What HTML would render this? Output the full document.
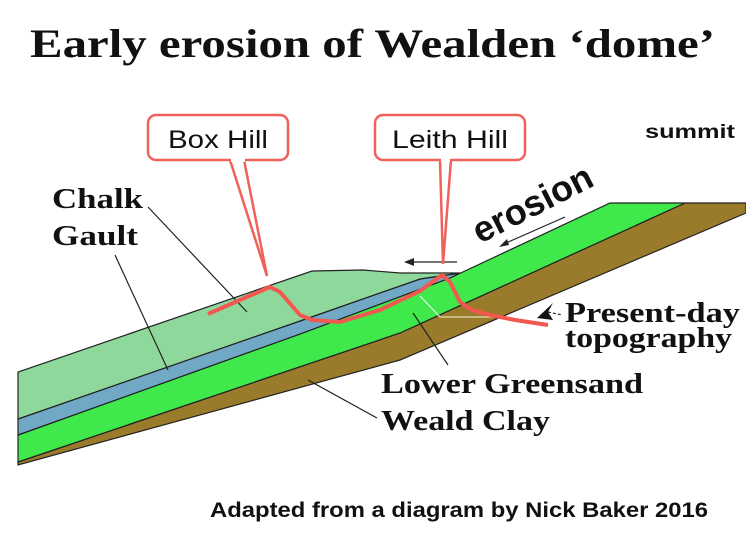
<!DOCTYPE html>
<html><head><style>
body{margin:0;width:746px;height:534px;background:#fff;overflow:hidden}
</style></head><body>
<svg width="746" height="534" xmlns="http://www.w3.org/2000/svg">
<rect width="746" height="534" fill="#fff"/>
<text x="30" y="57" textLength="685" lengthAdjust="spacingAndGlyphs" font-family="Liberation Serif, serif" font-weight="bold" font-size="40" fill="#111">Early erosion of Wealden ‘dome’</text>
<!-- weald clay -->
<polygon points="18,465 18,462 400,333 685,203 746,203 746,213 400,360" fill="#9a7b2c" stroke="#222" stroke-width="1.2"/>
<!-- greensand -->
<polygon points="18,462 18,435 300,334 450,278 610,203 685,203 400,333" fill="#3fe84b" stroke="#222" stroke-width="1.2"/>
<!-- gault -->
<polygon points="18,435 18,419 300,321 420,279 460,273 450,278 300,334" fill="#70a8c6" stroke="#222" stroke-width="1.2"/>
<!-- chalk -->
<polygon points="18,419 18,372 312,271 363,270 400,273 460,273 420,279 300,321" fill="#8fd89b" stroke="#222" stroke-width="1.2"/>
<!-- leader lines -->
<g stroke="#222" stroke-width="1.2">
<line x1="148" y1="207" x2="247" y2="312"/>
<line x1="115" y1="255" x2="168" y2="370"/>
<line x1="413" y1="313" x2="448" y2="365"/>
<line x1="308" y1="380" x2="377" y2="418"/>
<line x1="412" y1="262" x2="457" y2="262"/>
<line x1="506" y1="243" x2="565" y2="217"/>
<line x1="548" y1="312" x2="562" y2="315" stroke-dasharray="3,2"/>
</g>
<line x1="420" y1="296" x2="440" y2="317" stroke="#e8f8e8" stroke-width="1.2"/>
<line x1="440" y1="317" x2="495" y2="317" stroke="#e8e0b0" stroke-width="1.2"/>
<polygon points="404,262 414,258 414,266" fill="#222"/>
<polygon points="499,247 507,239 509,245" fill="#222"/>
<!-- red path -->
<polyline points="208,314 240,300 270,287 280,292 300,315 312,320 340,322 380,310 420,291 442,275 450,282 460,302 472,310 490,315 515,320 548,325" fill="none" stroke="#f2584f" stroke-width="4" stroke-linejoin="round"/>
<polygon points="537,318 553,303 548,312 553,320" fill="#111"/>
<!-- callouts -->
<rect x="148" y="115" width="140" height="45" rx="8" fill="#fff" stroke="#f0615a" stroke-width="2.5"/>
<polyline points="230,160 267,276 244,160" fill="#fff" stroke="#f0615a" stroke-width="2.5"/>
<rect x="231" y="157" width="14" height="5" fill="#fff"/>
<text x="168" y="148" textLength="100" lengthAdjust="spacingAndGlyphs" font-family="Liberation Sans, sans-serif" font-size="25" fill="#111">Box Hill</text>
<rect x="375" y="115" width="150" height="45" rx="8" fill="#fff" stroke="#f0615a" stroke-width="2.5"/>
<polyline points="440,160 443,264 451,160" fill="#fff" stroke="#f0615a" stroke-width="2.5"/>
<rect x="441" y="157" width="9" height="5" fill="#fff"/>
<text x="392" y="148" textLength="116" lengthAdjust="spacingAndGlyphs" font-family="Liberation Sans, sans-serif" font-size="25" fill="#111">Leith Hill</text>
<text x="645" y="138" textLength="90" lengthAdjust="spacingAndGlyphs" font-family="Liberation Sans, sans-serif" font-weight="bold" font-size="19" fill="#111">summit</text>
<text transform="translate(480,244) rotate(-27)" font-family="Liberation Sans, sans-serif" font-weight="bold" font-size="36" fill="#111">erosion</text>
<g font-family="Liberation Serif, serif" font-weight="bold" font-size="29" fill="#111">
<text x="52" y="208" textLength="91" lengthAdjust="spacingAndGlyphs">Chalk</text>
<text x="52" y="245" textLength="86" lengthAdjust="spacingAndGlyphs">Gault</text>
<text x="565" y="322" textLength="175" lengthAdjust="spacingAndGlyphs">Present-day</text>
<text x="565" y="347" textLength="167" lengthAdjust="spacingAndGlyphs">topography</text>
<text x="381" y="393" textLength="262" lengthAdjust="spacingAndGlyphs">Lower Greensand</text>
<text x="381" y="430" textLength="169" lengthAdjust="spacingAndGlyphs">Weald Clay</text>
</g>
<text x="210" y="517" textLength="498" lengthAdjust="spacingAndGlyphs" font-family="Liberation Sans, sans-serif" font-weight="bold" font-size="21" fill="#111">Adapted from a diagram by Nick Baker 2016</text>
</svg>
</body></html>
